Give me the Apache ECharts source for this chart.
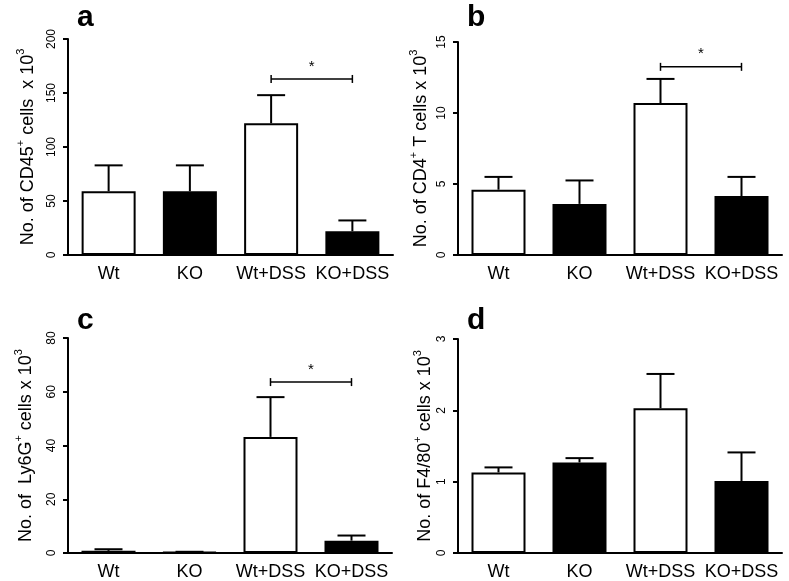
<!DOCTYPE html>
<html>
<head>
<meta charset="utf-8">
<script src="https://cdn.jsdelivr.net/npm/echarts@6/dist/echarts.min.js"></script>
<style>
html,body{margin:0;padding:0;background:#fff;}
#chart{width:789px;height:581px;}
</style>
</head>
<body>
<div id="chart"></div>
<script>
// ---- data ----
var categories = ['Wt', 'KO', 'Wt+DSS', 'KO+DSS'];
var barFill = ['#ffffff', '#000000', '#ffffff', '#000000'];

var cd45Mean = [59, 59, 122, 22];
var cd45ErrTop = [83, 83, 148, 32];

var cd4Mean = [4.6, 3.6, 10.7, 4.15];
var cd4ErrTop = [5.5, 5.25, 12.4, 5.5];

var ly6gMean = [0.8, 0.3, 43.2, 4.6];
var ly6gErrTop = [1.4, 0.45, 58, 6.5];

var f480Mean = [1.13, 1.27, 2.03, 1.01];
var f480ErrTop = [1.2, 1.33, 2.51, 1.41];

var yMax = [200, 15, 80, 3];
var yStep = [50, 5, 20, 1];

// significance brackets: [from category index, to category index, value]
var sigA = [[2, 3, 163]];
var sigB = [[2, 3, 13.25]];
var sigC = [[2, 3, 63.6]];

var panelLetters = ['a', 'b', 'c', 'd'];

// ---- chart ----
var FONT = '"Liberation Sans", Arial, Helvetica, sans-serif';
var chart = echarts.init(document.getElementById('chart'), null, {renderer: 'canvas'});

var grids = [
  {left: 68, top: 39, width: 325, height: 216},
  {left: 458, top: 42, width: 324, height: 213},
  {left: 68, top: 338, width: 324, height: 215},
  {left: 458, top: 339, width: 324, height: 214}
];

var names = [
  ['No. of CD45', '+', ' cells  x 10', '3'],
  ['No. of CD4', '+', ' T cells x 10', '3'],
  ['No. of  Ly6G', '+', ' cells x 10', '3'],
  ['No. of F4/80', '+', ' cells x 10', '3']
];
var nameGaps = [31, 28, 33, 24];

var means = [cd45Mean, cd4Mean, ly6gMean, f480Mean];
var errs = [cd45ErrTop, cd4ErrTop, ly6gErrTop, f480ErrTop];
var sigs = [sigA, sigB, sigC, []];

var xAxes = [], yAxes = [], series = [];

function errItem(params, api) {
  var x = api.value(0), m = api.value(1), e = api.value(2);
  var p0 = api.coord([x, m]);
  var p1 = api.coord([x, e]);
  return {
    type: 'group',
    children: [
      {type: 'line', shape: {x1: p0[0], y1: p0[1], x2: p1[0], y2: p1[1]}, style: {stroke: '#000', lineWidth: 2}},
      {type: 'line', shape: {x1: p1[0] - 14, y1: p1[1], x2: p1[0] + 14, y2: p1[1]}, style: {stroke: '#000', lineWidth: 2}}
    ]
  };
}

function sigItem(params, api) {
  var a = api.coord([api.value(0), api.value(2)]);
  var b = api.coord([api.value(1), api.value(2)]);
  return {
    type: 'group',
    children: [
      {type: 'line', shape: {x1: a[0], y1: a[1], x2: b[0], y2: b[1]}, style: {stroke: '#000', lineWidth: 1.5}},
      {type: 'line', shape: {x1: a[0], y1: a[1] - 4, x2: a[0], y2: a[1] + 4}, style: {stroke: '#000', lineWidth: 1.5}},
      {type: 'line', shape: {x1: b[0], y1: b[1] - 4, x2: b[0], y2: b[1] + 4}, style: {stroke: '#000', lineWidth: 1.5}},
      {type: 'text', style: {x: (a[0] + b[0]) / 2, y: a[1] - 5, text: '*', fill: '#000', font: '15px ' + FONT, align: 'center', verticalAlign: 'bottom'}}
    ]
  };
}

for (var i = 0; i < 4; i++) {
  xAxes.push({
    type: 'category', gridIndex: i, data: categories,
    axisLine: {lineStyle: {color: '#000', width: 2}},
    axisTick: {alignWithLabel: true, length: 5, lineStyle: {color: '#000', width: 2}},
    axisLabel: {color: '#000', fontSize: 18, fontFamily: FONT, margin: 10, interval: 0}
  });
  var nm = names[i];
  yAxes.push({
    type: 'value', gridIndex: i, min: 0, max: yMax[i], interval: yStep[i],
    name: '{t|' + nm[0] + '}{s|' + nm[1] + '}{t|' + nm[2] + '}{s|' + nm[3] + '}',
    nameLocation: 'middle', nameRotate: 90, nameGap: nameGaps[i],
    nameTextStyle: {
      color: '#000', fontFamily: FONT,
      rich: {
        t: {fontSize: 18, fontFamily: FONT, color: '#000', lineHeight: 22, verticalAlign: 'bottom'},
        s: {fontSize: 11, fontFamily: FONT, color: '#000', lineHeight: 22, verticalAlign: 'top'}
      }
    },
    axisLine: {show: true, lineStyle: {color: '#000', width: 2}},
    axisTick: {show: true, length: 5, lineStyle: {color: '#000', width: 2}},
    splitLine: {show: false},
    axisLabel: {color: '#000', fontSize: 12, fontFamily: FONT, rotate: 90, margin: 10}
  });
  series.push({
    type: 'bar', xAxisIndex: i, yAxisIndex: i, barWidth: 54, z: 3,
    data: means[i].map(function (v, k) {
      return {value: v, itemStyle: {color: barFill[k], borderColor: '#000', borderWidth: 2}};
    }),
    animation: false
  });
  series.push({
    type: 'custom', xAxisIndex: i, yAxisIndex: i, z: 2,
    renderItem: errItem,
    encode: {x: 0, y: [1, 2]},
    data: means[i].map(function (v, k) { return [k, v, errs[i][k]]; }),
    animation: false
  });
  if (sigs[i].length) {
    series.push({
      type: 'custom', xAxisIndex: i, yAxisIndex: i, z: 4,
      renderItem: sigItem,
      encode: {x: [0, 1], y: 2},
      data: sigs[i],
      animation: false
    });
  }
}

var letterPos = [[77, 18], [467, 18], [77, 321], [467, 321]];
var graphics = panelLetters.map(function (L, k) {
  return {
    type: 'text', left: null, x: letterPos[k][0], y: letterPos[k][1],
    style: {text: L, fill: '#000', font: 'bold 30px ' + FONT, align: 'left', verticalAlign: 'middle'}
  };
});

chart.setOption({
  backgroundColor: '#fff',
  animation: false,
  grid: grids,
  xAxis: xAxes,
  yAxis: yAxes,
  series: series,
  graphic: graphics
});
</script>
</body>
</html>
